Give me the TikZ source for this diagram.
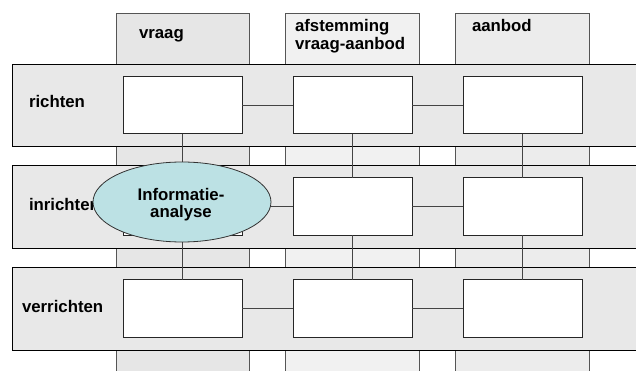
\documentclass[tikz,border=0pt]{standalone}
\usepackage{fontspec}
\setmainfont{Liberation Sans}
\usetikzlibrary{shapes.geometric}
\definecolor{colA}{HTML}{E6E6E6}
\definecolor{colB}{HTML}{F1F1F1}
\definecolor{colC}{HTML}{ECECEC}
\definecolor{rowfill}{HTML}{E8E8E8}
\definecolor{ellfill}{HTML}{BCE1E4}
\definecolor{colline}{HTML}{555555}
\definecolor{conline}{HTML}{444444}
\tikzset{
  colstrip/.style={draw=colline, line width=0.9pt},
  rowband/.style={draw=black, fill=rowfill, line width=0.9pt},
  cell/.style={draw=black!85, fill=white, line width=0.9pt, minimum width=119pt, minimum height=57.5pt, inner sep=0pt, outer sep=0pt},
  conn/.style={draw=conline, line width=0.9pt},
  lbl/.style={font=\fontsize{16.8}{17}\selectfont\bfseries, inner sep=0pt, outer sep=0pt, anchor=base west},
  infoell/.style={ellipse, draw=black!80, fill=ellfill, line width=0.8pt, minimum width=178pt, minimum height=80pt, inner sep=0pt, outer sep=0pt},
}
\begin{document}
\begin{tikzpicture}[x=1pt, y=-1pt]
\clip (0,0) rectangle (636,371);
\fill[white] (0,0) rectangle (636,371);
% column strips
\path[colstrip, fill=colA] (116,13) rectangle (249,380);
\path[colstrip, fill=colB] (285,13) rectangle (419,380);
\path[colstrip, fill=colC] (455,13) rectangle (589,380);
% header texts
\node[lbl] (hvraag) at (139,39) {vraag};
\node[lbl] (hafst1) at (295,32) {afstemming};
\node[lbl] (hafst2) at (295,50) {vraag-aanbod};
\node[lbl] (haanbod) at (472,32) {aanbod};
% row bands
\path[rowband] (12,64) rectangle (645,146);
\path[rowband] (12,165) rectangle (645,248);
\path[rowband] (12,267) rectangle (645,350);
% row labels
\node[lbl] (lrichten) at (29,108) {richten};
\node[lbl] (linrichten) at (29,211) {inrichten};
\node[lbl] (lverrichten) at (22,312) {verrichten};
% cells
\node[cell] (r1) at (182.5,105) {};
\node[cell] (r2) at (352.5,105) {};
\node[cell] (r3) at (522.5,105) {};
\node[cell] (i1) at (182.5,206.5) {};
\node[cell] (i2) at (352.5,206.5) {};
\node[cell] (i3) at (522.5,206.5) {};
\node[cell] (v1) at (182.5,308.5) {};
\node[cell] (v2) at (352.5,308.5) {};
\node[cell] (v3) at (522.5,308.5) {};
% connectors
\draw[conn] (r1) -- (r2);
\draw[conn] (r2) -- (r3);
\draw[conn] (i1) -- (i2);
\draw[conn] (i2) -- (i3);
\draw[conn] (v1) -- (v2);
\draw[conn] (v2) -- (v3);
\draw[conn] (r1) -- (i1);
\draw[conn] (i1) -- (v1);
\draw[conn] (r2) -- (i2);
\draw[conn] (i2) -- (v2);
\draw[conn] (r3) -- (i3);
\draw[conn] (i3) -- (v3);
% ellipse
\node[infoell] (info) at (182,202) {};
\node[lbl, anchor=base] (info1) at (181,200.5) {Informatie-};
\node[lbl, anchor=base] (info2) at (181,217.3) {analyse};
\end{tikzpicture}
\end{document}
